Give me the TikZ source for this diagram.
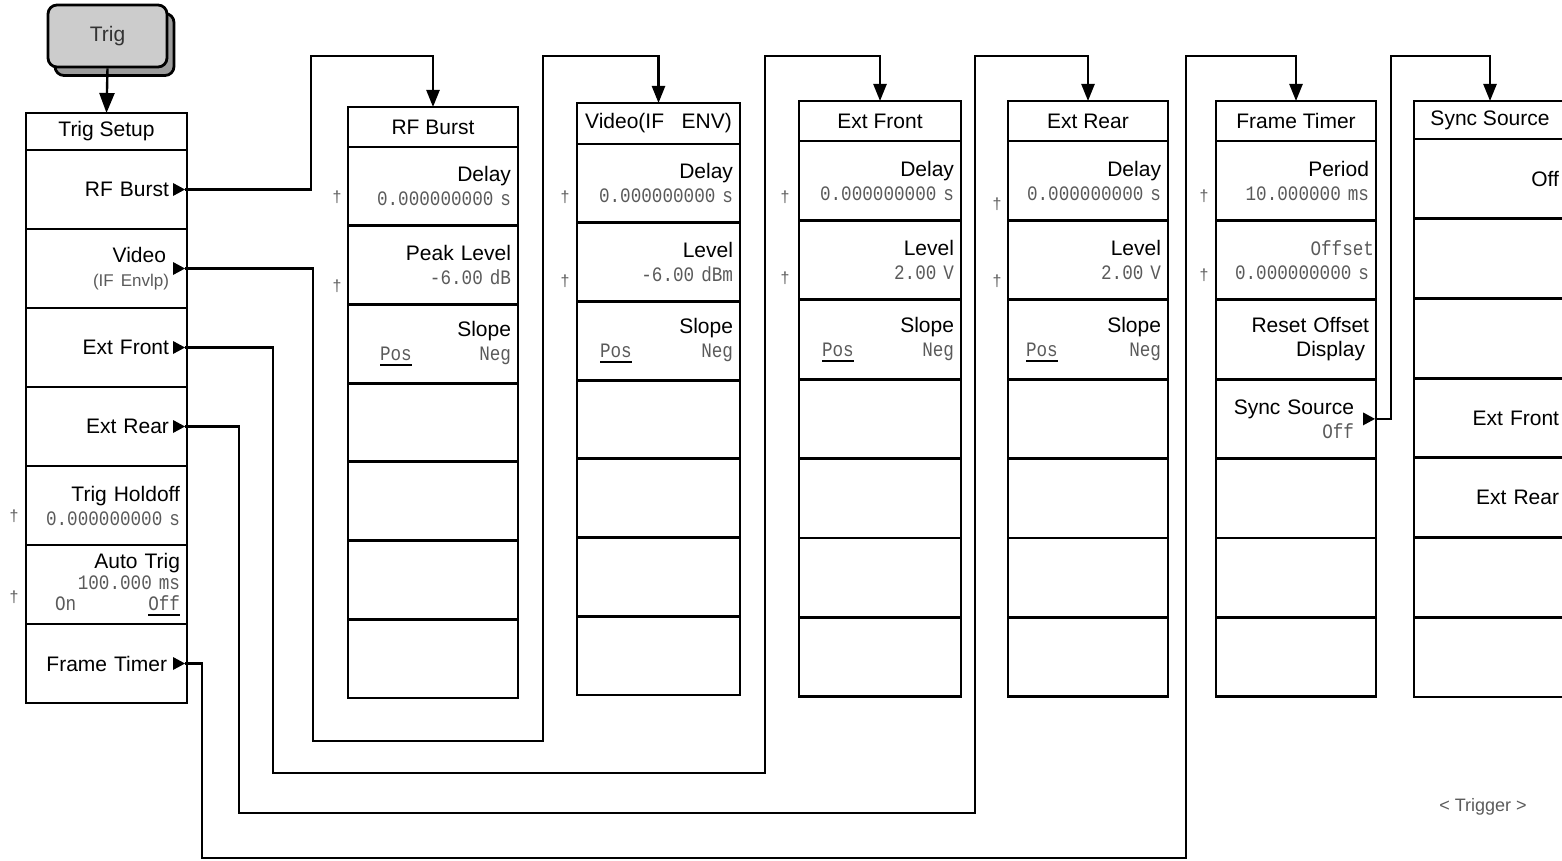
\documentclass[tikz,border=0pt]{standalone}
\usepackage{fontspec}
\setmainfont{Liberation Sans}
\newfontfamily\monof[FakeStretch=0.86]{Liberation Mono}
\usetikzlibrary{arrows.meta,positioning,shapes.geometric}
\definecolor{keygray}{HTML}{CCCCCC}
\definecolor{keyshade}{HTML}{9C9C9C}
\definecolor{valgray}{HTML}{5A5A5A}
\newcommand\lab{\fontsize{21}{24}\selectfont}
\newcommand\val{\monof\fontsize{20.5}{24}\selectfont\color{valgray}}
\newcommand\subtxt{\fontsize{17}{24}\selectfont\color{valgray}}
\newcommand\gap{\hskip 0pt plus 1filll}
\newcommand\ulin[1]{\setbox0\hbox{#1}\rlap{\color{black}\rule[-6pt]{\wd0}{2.6pt}}\box0}
\tikzset{cell/.style={draw,line width=2.8pt,outer sep=0pt,inner xsep=7pt,inner ysep=1pt,align=right,font=\lab},
ttl/.style={draw,line width=2.8pt,outer sep=0pt,minimum height=40pt,font=\lab},
tsc/.style={cell,text width=147pt,minimum height=79pt},rfc/.style={cell,text width=156pt,minimum height=78.7pt},
vidc/.style={cell,text width=149pt,minimum height=78.7pt},efc/.style={cell,text width=148pt,minimum height=79.4pt},
erc/.style={cell,text width=146pt,minimum height=79.4pt},ftc/.style={cell,text width=146pt,minimum height=79.4pt},
ssc/.style={cell,text width=138pt,minimum height=79.7pt},
tri/.style={isosceles triangle,isosceles triangle stretches,fill=black,inner sep=0pt,outer sep=0pt,minimum width=13pt,minimum height=12pt},
dag/.style={font=\fontsize{16}{18}\selectfont,text=valgray,inner sep=0pt},
conn/.style={line width=2.4pt,-{Triangle[length=17pt,width=13pt]}},
key/.style={draw,line width=2.8pt,rounded corners=9pt,minimum width=119pt,minimum height=62pt,font=\lab}}

\begin{document}
\begin{tikzpicture}[x=1pt,y=-1pt]
\useasboundingbox (0,0) rectangle (1562,861);
% front panel key
\node[key,fill=keyshade] (trigsh) at (114.5,44.5) {};
\node[key,fill=keygray,text=black!80] (trig) at (107.5,36) {Trig};
% Trig Setup menu
\node[ttl,minimum width=161pt,minimum height=37pt,anchor=north] (tsT) at (106.5,113) {Trig Setup};
\node[tsc,below=0pt of tsT] (ts1) {RF Burst\kern11pt};
\node[tsc,below=0pt of ts1] (ts2) {Video\kern14pt\\\subtxt(IF Envlp)\kern11pt};
\node[tsc,below=0pt of ts2] (ts3) {Ext Front\kern11pt};
\node[tsc,below=0pt of ts3] (ts4) {Ext Rear\kern11pt};
\node[tsc,below=0pt of ts4] (ts5) {Trig Holdoff\\\val 0.000000000 s};
\node[tsc,below=0pt of ts5] (ts6) {Auto Trig\\[-3pt]\val 100.000 ms\\[-3pt]\hspace*{22pt}On\gap\ulin{Off}};
\node[tsc,below=0pt of ts6] (ts7) {Frame Timer\kern13pt};
\node[tri,left=2pt of ts1.east] (mRF) {}; \node[tri,left=2pt of ts2.east] (mV) {};
\node[tri,left=2pt of ts3.east] (mEF) {}; \node[tri,left=2pt of ts4.east] (mER) {};
\node[tri,left=2pt of ts7.east] (mFT) {};
\node[dag] (d1) at (14,516) {†}; \node[dag] (d2) at (14,597) {†};
% RF Burst menu
\node[ttl,minimum width=170pt,anchor=north] (rfT) at (433,107) {RF Burst};
\node[rfc,below=0pt of rfT] (rf1) {Delay\\\val 0.000000000 s};
\node[rfc,below=0pt of rf1] (rf2) {Peak Level\\\val -6.00 dB};
\node[rfc,below=0pt of rf2] (rf3) {Slope\\\val\hspace*{25pt}\ulin{Pos}\gap Neg};
\node[rfc,below=0pt of rf3] (rf4) {}; \node[rfc,below=0pt of rf4] (rf5) {};
\node[rfc,below=0pt of rf5] (rf6) {}; \node[rfc,below=0pt of rf6] (rf7) {};
\node[dag] (d3) at (337,197) {†}; \node[dag] (d4) at (337,286) {†};
% Video menu
\node[ttl,minimum width=163pt,minimum height=41pt,anchor=north] (vidT) at (658.5,103) {Video(IF\ \ \ ENV)};
\node[vidc,below=0pt of vidT] (vid1) {Delay\\\val 0.000000000 s};
\node[vidc,below=0pt of vid1] (vid2) {Level\\\val -6.00 dBm};
\node[vidc,below=0pt of vid2] (vid3) {Slope\\\val\hspace*{16pt}\ulin{Pos}\gap Neg};
\node[vidc,below=0pt of vid3] (vid4) {}; \node[vidc,below=0pt of vid4] (vid5) {};
\node[vidc,below=0pt of vid5] (vid6) {}; \node[vidc,below=0pt of vid6] (vid7) {};
\node[dag] (d5) at (565,197) {†}; \node[dag] (d6) at (565,281) {†};
% Ext Front menu
\node[ttl,minimum width=162pt,anchor=north] (efT) at (880,101) {Ext Front};
\node[efc,below=0pt of efT] (ef1) {Delay\\\val 0.000000000 s};
\node[efc,below=0pt of ef1] (ef2) {Level\\\val 2.00 V};
\node[efc,below=0pt of ef2] (ef3) {Slope\\\val\hspace*{16pt}\ulin{Pos}\gap Neg};
\node[efc,below=0pt of ef3] (ef4) {}; \node[efc,below=0pt of ef4] (ef5) {};
\node[efc,below=0pt of ef5] (ef6) {}; \node[efc,below=0pt of ef6] (ef7) {};
\node[dag] (d7) at (785,197) {†}; \node[dag] (d8) at (785,278) {†};
% Ext Rear menu
\node[ttl,minimum width=160pt,anchor=north] (erT) at (1088,101) {Ext Rear};
\node[erc,below=0pt of erT] (er1) {Delay\\\val 0.000000000 s};
\node[erc,below=0pt of er1] (er2) {Level\\\val 2.00 V};
\node[erc,below=0pt of er2] (er3) {Slope\\\val\hspace*{11pt}\ulin{Pos}\gap Neg};
\node[erc,below=0pt of er3] (er4) {}; \node[erc,below=0pt of er4] (er5) {};
\node[erc,below=0pt of er5] (er6) {}; \node[erc,below=0pt of er6] (er7) {};
\node[dag] (d9) at (997,204) {†}; \node[dag] (d10) at (997,281) {†};
% Frame Timer menu
\node[ttl,minimum width=160pt,anchor=north] (ftT) at (1296,101) {Frame Timer};
\node[ftc,below=0pt of ftT] (ft1) {Period\\\val 10.000000 ms};
\node[ftc,below=0pt of ft1] (ft2) {\val Offset\kern-5pt\\0.000000000 s};
\node[ftc,below=0pt of ft2] (ft3) {Reset Offset\\Display\kern4pt};
\node[ftc,below=0pt of ft3] (ft4) {Sync Source\kern15pt\\\val Off\kern15pt};
\node[ftc,below=0pt of ft4] (ft5) {}; \node[ftc,below=0pt of ft5] (ft6) {};
\node[ftc,below=0pt of ft6] (ft7) {};
\node[tri,left=1pt of ft4.east] (mSS) {};
\node[dag] (d11) at (1204,196) {†}; \node[dag] (d12) at (1204,275) {†};
% Sync Source menu
\node[ttl,minimum width=152pt,minimum height=38pt,anchor=north] (ssT) at (1490,101) {Sync Source};
\node[ssc,below=0pt of ssT] (ss1) {Off}; \node[ssc,below=0pt of ss1] (ss2) {};
\node[ssc,below=0pt of ss2] (ss3) {}; \node[ssc,below=0pt of ss3] (ss4) {Ext Front};
\node[ssc,below=0pt of ss4] (ss5) {Ext Rear}; \node[ssc,below=0pt of ss5] (ss6) {};
\node[ssc,below=0pt of ss6] (ss7) {};
\node[font=\fontsize{18}{20}\selectfont,text=valgray] (trgname) at (1483,807) {<\ Trigger\ >};
% connectors
\draw[line width=2.4pt,-{Triangle[length=20pt,width=15pt]}] (trig.south) -- (tsT.north);
\draw[conn] (mRF.east) -| (311,56) -| (rfT.north);
\draw[conn] (mV.east) -| (313,741) -| (543,56) -| (vidT.north);
\draw[conn] (mEF.east) -| (273,773) -| (765,56) -| (efT.north);
\draw[conn] (mER.east) -| (239,813) -| (975,56) -| (erT.north);
\draw[conn] (mFT.east) -| (202,858) -| (1186,56) -| (ftT.north);
\draw[conn] (mSS.east) -| (1391,56) -| (ssT.north);
\end{tikzpicture}
\end{document}
